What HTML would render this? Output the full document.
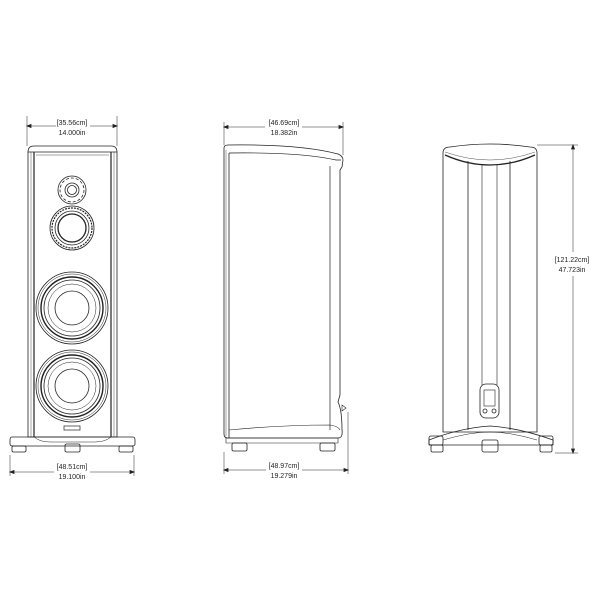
<!DOCTYPE html>
<html><head><style>
html,body{margin:0;padding:0;background:#fff}
svg{display:block}
text{font-family:"Liberation Sans",sans-serif;font-size:7px;fill:#222;text-anchor:middle}
</style></head><body>
<svg width="600" height="600" viewBox="0 0 600 600" xmlns="http://www.w3.org/2000/svg" fill="none" stroke="#222" stroke-width="0.8">
<!-- FRONT VIEW -->
<g>
 <line x1="27" y1="116" x2="27" y2="146" stroke-width="0.5"/>
 <line x1="117" y1="116" x2="117" y2="146" stroke-width="0.5"/>
 <line x1="27" y1="126" x2="56" y2="126" stroke-width="0.5"/>
 <line x1="90" y1="126" x2="117" y2="126" stroke-width="0.5"/>
 <path d="M27 126 l4 -1.5 v3z M117 126 l-4 -1.5 v3z" fill="#222"/>
 <text x="72" y="125" stroke="none">[35.56cm]</text>
 <text x="72" y="135" stroke="none">14.000in</text>
 <path d="M28 152 Q28 146 34 146 H111 Q117 146 117 152 V437 H28Z"/>
 <line x1="28" y1="152" x2="117" y2="152"/>
 <line x1="34" y1="152" x2="34" y2="437" stroke-width="1.2"/>
 <line x1="111" y1="152" x2="111" y2="437" stroke-width="1.2"/>
 <line x1="31" y1="152" x2="31" y2="437" stroke-width="0.4"/>
 <line x1="114" y1="152" x2="114" y2="437" stroke-width="0.4"/>
 <line x1="36" y1="155" x2="109" y2="155" stroke-width="0.4"/>
 <circle cx="72" cy="190" r="14"/>
 <circle cx="72" cy="190" r="12" stroke-dasharray="3 2"/>
 <circle cx="72" cy="190" r="7"/>
 <circle cx="72" cy="190" r="4.5"/>
 <circle cx="72" cy="228" r="22"/>
 <circle cx="72" cy="228" r="20" stroke-dasharray="2 1" stroke-width="1.2"/>
 <circle cx="72" cy="228" r="17"/>
 <circle cx="72" cy="228" r="14" stroke-width="1.3"/>
 <g id="w">
  <circle cx="72" cy="308" r="36"/>
  <circle cx="72" cy="308" r="34" stroke-width="0.5"/>
  <circle cx="72" cy="308" r="31" stroke-width="1.4"/>
  <circle cx="72" cy="308" r="28"/>
  <circle cx="72" cy="308" r="24" stroke-width="0.5"/>
  <circle cx="72" cy="308" r="17"/>
 </g>
 <use href="#w" y="78"/>
 <rect x="64" y="426" width="16" height="4" stroke-width="0.7"/>
 <path d="M12 437 H133 Q135 437 135 440 V444 Q135 446 132 446 H13 Q10 446 10 444 V440 Q10 437 12 437Z"/>
 <path d="M34 437 Q40 442 50 442 H95 Q105 442 111 437" stroke-width="0.5"/>
 <rect x="12" y="446" width="14" height="6" rx="1.5"/>
 <rect x="65" y="444" width="15" height="8" rx="1.5"/>
 <rect x="119" y="446" width="14" height="6" rx="1.5"/>
 <line x1="10" y1="455" x2="10" y2="476" stroke-width="0.5"/>
 <line x1="134" y1="455" x2="134" y2="476" stroke-width="0.5"/>
 <line x1="10" y1="472" x2="54" y2="472" stroke-width="0.5"/>
 <line x1="90" y1="472" x2="134" y2="472" stroke-width="0.5"/>
 <path d="M10 472 l4 -1.5 v3z M134 472 l-4 -1.5 v3z" fill="#222"/>
 <text x="72" y="469" stroke="none">[48.51cm]</text>
 <text x="72" y="479" stroke="none">19.100in</text>
</g>
<!-- SIDE VIEW -->
<g>
 <line x1="224" y1="122" x2="224" y2="145" stroke-width="0.5"/>
 <line x1="343" y1="122" x2="343" y2="155" stroke-width="0.5"/>
 <line x1="224" y1="127" x2="265" y2="127" stroke-width="0.5"/>
 <line x1="302" y1="127" x2="343" y2="127" stroke-width="0.5"/>
 <path d="M224 127 l4 -1.5 v3z M343 127 l-4 -1.5 v3z" fill="#222"/>
 <text x="284" y="125" stroke="none">[46.69cm]</text>
 <text x="284" y="135" stroke="none">18.382in</text>
 <path d="M224 148 Q224 145 228 145 Q300 144 338 154 Q343 156 343 160 L342 167 L340 170 V395 L338 402 Q342 410 342 430 Q343 438 338 438 H228 Q224 438 224 434Z"/>
 <path d="M229 153 Q300 152 336 160 H341" stroke-width="0.7"/>
 <line x1="229" y1="153" x2="229" y2="438"/>
 <line x1="226" y1="150" x2="226" y2="436" stroke-width="0.4"/>
 <line x1="330" y1="166" x2="330" y2="430" stroke-width="0.7"/>
 <path d="M229 430 Q280 425 330 425 Q338 426 340 430" stroke-width="0.6"/>
 <path d="M342 405 l4 3 l-4 3z" stroke-width="0.6"/>
 <path d="M226 438 H338 V443 H226Z" stroke-width="0.6"/>
 <rect x="232" y="443" width="15" height="8" rx="1.5"/>
 <rect x="320" y="443" width="15" height="8" rx="1.5"/>
 <line x1="224" y1="452" x2="224" y2="474" stroke-width="0.5"/>
 <line x1="348" y1="412" x2="348" y2="474" stroke-width="0.5"/>
 <line x1="224" y1="470" x2="266" y2="470" stroke-width="0.5"/>
 <line x1="302" y1="470" x2="348" y2="470" stroke-width="0.5"/>
 <path d="M224 470 l4 -1.5 v3z M348 470 l-4 -1.5 v3z" fill="#222"/>
 <text x="284" y="468" stroke="none">[48.97cm]</text>
 <text x="284" y="478" stroke="none">19.279in</text>
</g>
<!-- REAR VIEW -->
<g>
 <path d="M443 153 Q443 147 450 147 Q490 141 530 147 Q537 147 537 153 V432 H443Z"/>
 <path d="M445 155 Q490 175 535 155" stroke-width="1.3"/>
 <path d="M445 152 Q490 168 535 152" stroke-width="0.4"/>
 <line x1="468" y1="161" x2="468" y2="430"/>
 <line x1="510" y1="161" x2="510" y2="430"/>
 <line x1="482" y1="164" x2="482" y2="385" stroke-width="0.6"/>
 <line x1="497" y1="164" x2="497" y2="385" stroke-width="0.6"/>
 <rect x="480" y="384" width="19" height="34" rx="6" fill="#fff"/>
 <rect x="484" y="390" width="11" height="16" stroke-width="0.6"/>
 <circle cx="485" cy="411" r="2"/>
 <circle cx="494" cy="411" r="2"/>
 <path d="M429 440 Q460 428 490 426 Q520 428 553 440 V445 H429Z"/>
 <path d="M443 440 Q470 432 490 432 Q510 432 537 440" stroke-width="0.5"/>
 <rect x="429" y="436" width="14" height="9" rx="2"/>
 <rect x="539" y="436" width="14" height="9" rx="2"/>
 <rect x="431" y="445" width="12" height="7" rx="1.5"/>
 <rect x="540" y="445" width="12" height="7" rx="1.5"/>
 <rect x="482" y="440" width="16" height="12" rx="2"/>
 <line x1="537" y1="145" x2="578" y2="145" stroke-width="0.5"/>
 <line x1="555" y1="453" x2="578" y2="453" stroke-width="0.5"/>
 <line x1="573" y1="145" x2="573" y2="252" stroke-width="0.5"/>
 <line x1="573" y1="276" x2="573" y2="453" stroke-width="0.5"/>
 <path d="M573 145 l-1.5 4 h3z M573 453 l-1.5 -4 h3z" fill="#222"/>
 <text x="572" y="262" stroke="none">[121.22cm]</text>
 <text x="572" y="272" stroke="none">47.723in</text>
</g>
</svg>
</body></html>
